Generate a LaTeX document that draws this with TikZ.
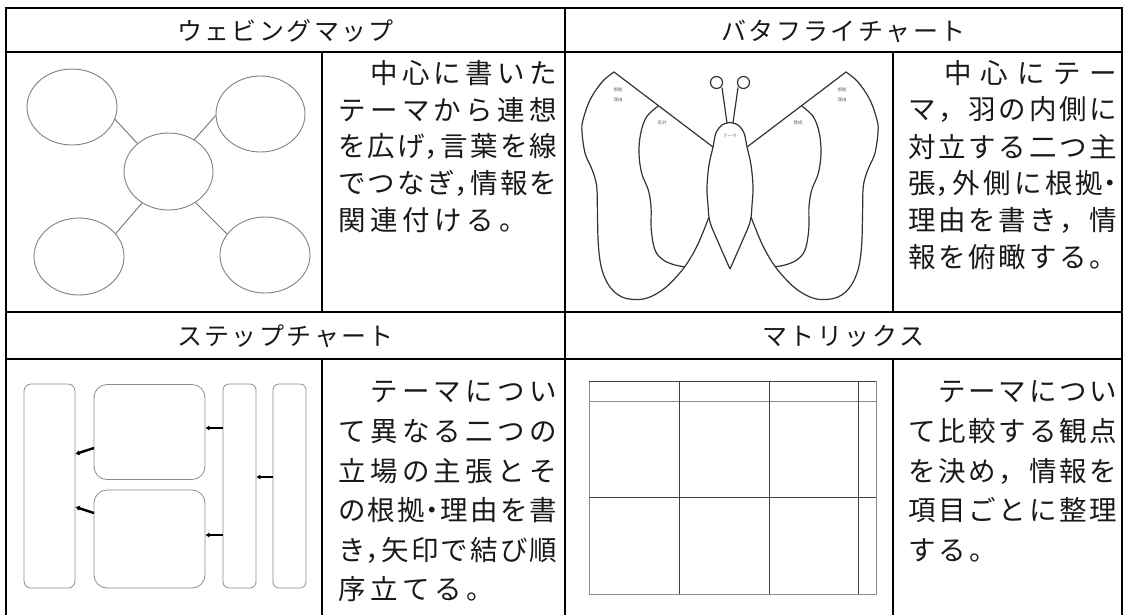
\documentclass[tikz,border=0pt]{standalone}
\usepackage{fontspec}
\setmainfont{Noto Sans CJK JP}
\usetikzlibrary{arrows.meta,shapes.geometric}

\makeatletter
% spread the items of #2 evenly over the width #1
\newcommand\jfill[2]{\hbox to #1{\def\jsep{}\@tfor\jc:=#2\do{\jsep\jc\def\jsep{\hskip 0pt plus 1fill}}}}
% set the items of #2 with a fixed gap #1 between them
\newcommand\jgap[2]{\hbox{\def\jsep{}\@tfor\jc:=#2\do{\jsep\jc\def\jsep{\hskip #1}}}}
\makeatother
\newcommand\ind{\hbox to 1em{}}
\newcommand\hcm{\makebox[0.5em][l]{，}}
\newcommand\hdt{\makebox[0.5em][c]{・}}

\tikzset{
  rule/.style={line width=2pt},
  head/.style={inner sep=0, font=\fontsize{25}{29}\selectfont, text=black!90},
  txt/.style={anchor=west, inner sep=0, font=\fontsize{27.5}{31}\selectfont, text=black!90},
  bubble/.style={ellipse, draw=black!50, line width=0.9pt, inner sep=0},
  link/.style={draw=black!55, line width=0.9pt},
  bfly/.style={draw=black!80, line width=1.2pt},
  tinylbl/.style={inner sep=0, font=\fontsize{4.5}{5}\selectfont, text=black!60},
  stepbox/.style={draw=black!45, line width=0.8pt, rounded corners=#1, inner sep=0},
  sarrow/.style={draw=black, line width=2.4pt, -{Latex[length=4pt,width=5.5pt]}},
  gridline/.style={draw=black!75, line width=0.9pt},
  gridedge/.style={draw=black!45, line width=0.9pt},
}

\begin{document}
\begin{tikzpicture}[x=1pt,y=-1pt]
\useasboundingbox (0,0) rectangle (1126,614);

% ---- table rules ----
\draw[rule] (6,616) -- (6,8) -- (1122,8) -- (1122,616);
\draw[rule] (565,8) -- (565,616);
\draw[rule] (6,52) -- (1122,52);
\draw[rule] (6,312) -- (1122,312);
\draw[rule] (6,359) -- (1122,359);
\draw[rule] (322,52) -- (322,312);
\draw[rule] (322,359) -- (322,616);
\draw[rule] (893,52) -- (893,312);
\draw[rule] (893,359) -- (893,616);

% ---- headings ----
\node[head] (h1) at (285.5,31) {\jgap{2.4pt}{ウェビングマップ}};
\node[head] (h2) at (843.5,31) {\jgap{2.4pt}{バタフライチャート}};
\node[head] (h3) at (285.5,336) {\jgap{2.4pt}{ステップチャート}};
\node[head] (h4) at (843.5,336) {\jgap{2.4pt}{マトリックス}};

% ---- descriptions ----
\node[txt] (a1) at (338,73)    {\jfill{219pt}{{\ind}中心に書いた}};
\node[txt] (a2) at (338,109.8) {\jfill{219pt}{テーマから連想}};
\node[txt] (a3) at (338,146.6) {\jfill{219pt}{を広{げ\hcm}言葉を線}};
\node[txt] (a4) at (338,183.4) {\jfill{219pt}{でつな{ぎ\hcm}情報を}};
\node[txt] (a5) at (338,220.2) {\jgap{4.7pt}{関連付ける。}};

\node[txt] (b1) at (908,73)    {\jfill{209pt}{{\ind}中心にテー}};
\node[txt] (b2) at (908,109.8) {\jfill{209pt}{マ，羽の内側に}};
\node[txt] (b3) at (908,146.6) {\jfill{209pt}{対立する二つ主}};
\node[txt] (b4) at (908,183.4) {\jfill{209pt}{{張\hcm}外側に根{拠\hdt}}};
\node[txt] (b5) at (908,220.2) {\jfill{209pt}{理由を書き，情}};
\node[txt] (b6) at (908,257)   {\jfill{209pt}{報を俯瞰する。}};

\node[txt] (c1) at (338,392)   {\jfill{219pt}{{\ind}テーマについ}};
\node[txt] (c2) at (338,431.5) {\jfill{219pt}{て異なる二つの}};
\node[txt] (c3) at (338,471)   {\jfill{219pt}{立場の主張とそ}};
\node[txt] (c4) at (338,510.5) {\jfill{219pt}{の根{拠\hdt}理由を書}};
\node[txt] (c5) at (338,550)   {\jfill{219pt}{{き\hcm}矢印で結び順}};
\node[txt] (c6) at (338,589.5) {\jgap{4.7pt}{序立てる。}};

\node[txt] (d1) at (908,392)   {\jfill{209pt}{{\ind}テーマについ}};
\node[txt] (d2) at (908,431.5) {\jfill{209pt}{て比較する観点}};
\node[txt] (d3) at (908,471)   {\jfill{209pt}{を決め，情報を}};
\node[txt] (d4) at (908,510.5) {\jfill{209pt}{項目ごとに整理}};
\node[txt] (d5) at (908,550)   {\jgap{3pt}{する。}};

% ---- webbing map ----
\node[bubble, minimum width=90pt, minimum height=76pt] (wtl) at (72,107) {};
\node[bubble, minimum width=89pt, minimum height=76pt] (wtr) at (260.5,114) {};
\node[bubble, minimum width=89pt, minimum height=77pt] (wc)  at (168.5,171.5) {};
\node[bubble, minimum width=90pt, minimum height=77pt] (wbl) at (79,256.5) {};
\node[bubble, minimum width=90pt, minimum height=76pt] (wbr) at (265,255) {};
\draw[link] (wtl.-16) -- (wc.138);
\draw[link] (wtr.182) -- (wc.51);
\draw[link] (wbl.32) -- (wc.-130);
\draw[link] (wbr.151) -- (wc.-49);

% ---- butterfly chart ----
\begin{scope}[shift={(730,0)}]
  \foreach \s in {1,-1}{
    \begin{scope}[xscale=\s]
      % outer wing
      \draw[bfly] (17,147) -- (116,72) -- plot[smooth,tension=0.6] coordinates {
        (116,72) (128,82) (140,100) (147,120) (148,132) (145,153) (139,167)
        (135,178) (133,190) (132.5,217) (131.5,247) (128,270) (120,287)
        (108,297) (93,299.5) (80,297) (65,288) (52,275) (42,262) (31.7,243.3) (21,217)};
      % inner wing
      \draw[bfly] plot[smooth,tension=0.6] coordinates {
        (71.7,106) (83.3,116.7) (89.3,133.3) (91,153.3) (88.3,173.3) (81.7,190)
        (79,206.7) (78.7,230) (75,250) (66.7,260) (55,265) (45,266.7)};
      % body
      \draw[bfly] plot[smooth,tension=0.6] coordinates {
        (0,122.5) (8,125) (14,133) (17,147) (21,165) (23,187) (22,205) (20,222) (11,244) (0,269)};
      % antenna
      \draw[bfly] (3,123) -- (8,87.5);
      \draw[bfly] (13.5,82.5) circle[radius=6];
    \end{scope}
  }
\end{scope}
\node[tinylbl] (lo1) at (618,90) {根拠};
\node[tinylbl] (lo2) at (618,99.5) {理由};
\node[tinylbl] (li)  at (662,123) {反対};
\node[tinylbl] (ro1) at (842,90) {根拠};
\node[tinylbl] (ro2) at (842,99.5) {理由};
\node[tinylbl] (ri)  at (798,123) {賛成};
\node[tinylbl] (bt)  at (730,136) {テーマ};

% ---- step chart ----
\node[stepbox=7pt,  minimum width=51pt,  minimum height=204pt] (sa) at (49.5,486) {};
\node[stepbox=13pt, minimum width=111pt, minimum height=95pt]  (sb) at (149.5,432) {};
\node[stepbox=13pt, minimum width=111pt, minimum height=98pt]  (sc) at (149.5,539) {};
\node[stepbox=6pt,  minimum width=33pt,  minimum height=204pt] (sd) at (239.5,486) {};
\node[stepbox=6pt,  minimum width=33pt,  minimum height=204pt] (se) at (289.5,486) {};
\coordinate (e1) at (273,477);
\coordinate (b1s) at (94,448);
\coordinate (c1s) at (94,513);
\draw[sarrow] (sd.west |- 0,428) -- (sb.east |- 0,428);
\draw[sarrow] (sd.west |- 0,535) -- (sc.east |- 0,535);
\draw[sarrow] (e1) -- (sd.east |- e1);
\draw[sarrow] (b1s) -- (sa.east |- 0,454);
\draw[sarrow] (c1s) -- (sa.east |- 0,507);

% ---- matrix ----
\draw[gridedge] (589,381) rectangle (876,594);
\draw[gridedge] (589,401) -- (876,401);
\draw[gridline] (589,381) -- (876,381);
\draw[gridline] (589,497) -- (876,497);
\draw[gridline] (679,381) -- (679,594);
\draw[gridline] (769,381) -- (769,594);
\draw[gridline] (858,381) -- (858,594);
\end{tikzpicture}
\end{document}
